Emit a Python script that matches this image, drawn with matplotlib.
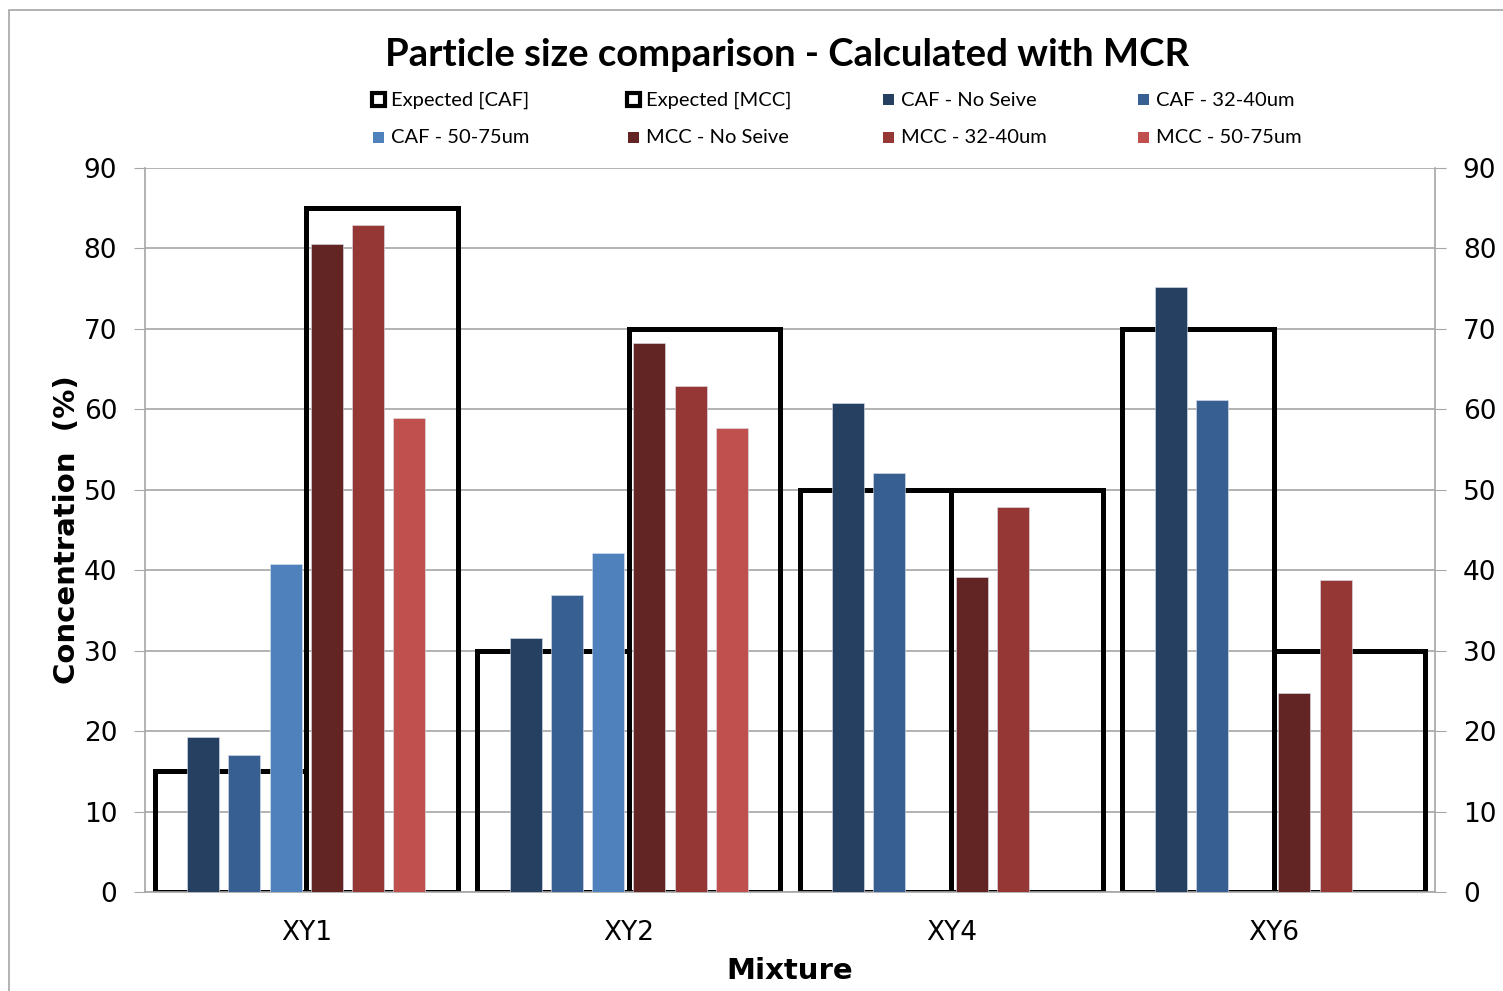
import matplotlib
matplotlib.use("Agg")
import matplotlib.pyplot as plt
import numpy as np
from matplotlib.patches import Rectangle

# Données (concentration en %)
melanges = ["XY1", "XY2", "XY4", "XY6"]

attendu_caf = [15, 30, 50, 70]
attendu_mcc = [85, 70, 50, 30]

caf_sans_tamis = [19.3, 31.6, 60.8, 75.2]
caf_32_40 = [17.0, 36.9, 52.1, 61.2]
caf_50_75 = [40.8, 42.1, 0, 0]
mcc_sans_tamis = [80.6, 68.2, 39.2, 24.7]
mcc_32_40 = [82.9, 62.9, 47.9, 38.8]
mcc_50_75 = [58.9, 57.7, 0, 0]

noms_series = [
    "CAF - No Seive", "CAF - 32-40um", "CAF - 50-75um",
    "MCC - No Seive", "MCC - 32-40um", "MCC - 50-75um",
]
couleurs = ["#264061", "#375F91", "#4F81BD", "#632523", "#953735", "#C0504D"]

GRIS = "#A6A6A6"
TEXTE = "Lato"

figure = plt.figure(figsize=(15.03, 9.91), dpi=100)
axe = figure.add_axes([145 / 1503, 1 - 892 / 991, 1290 / 1503, 724 / 991])

positions = np.arange(len(melanges))

# Barres "attendues" : grands cadres noirs sans remplissage, derrière les autres
largeur_cadre = 0.47
axe.bar(positions - largeur_cadre / 2, attendu_caf, largeur_cadre,
        facecolor="none", edgecolor="black", linewidth=3.6, zorder=2)
axe.bar(positions + largeur_cadre / 2, attendu_mcc, largeur_cadre,
        facecolor="none", edgecolor="black", linewidth=3.6, zorder=2)

# Barres mesurées
pas = 0.1278
largeur_barre = 0.099
valeurs = [caf_sans_tamis, caf_32_40, caf_50_75, mcc_sans_tamis, mcc_32_40, mcc_50_75]
for i, (serie, couleur) in enumerate(zip(valeurs, couleurs)):
    decalage = (i - 2.5) * pas
    axe.bar(positions + decalage, serie, largeur_barre, color=couleur,
            edgecolor="#dde3ee", linewidth=0.4, zorder=3)

axe.set_xlim(-0.5, len(melanges) - 0.5)
axe.set_ylim(0, 90)
axe.set_yticks(range(0, 91, 10))
axe.set_xticks(positions)
axe.set_xticklabels(melanges, fontsize=19)
axe.tick_params(axis="x", length=0, pad=20)
axe.tick_params(axis="y", length=8, color=GRIS, labelsize=19, pad=12)
axe.grid(axis="y", color=GRIS, linewidth=1.2, zorder=0)
axe.set_axisbelow(True)
for cote in ["left", "bottom", "right"]:
    axe.spines[cote].set_color(GRIS)
    axe.spines[cote].set_linewidth(1.2)
axe.spines["top"].set_visible(False)

axe_droit = axe.twinx()
axe_droit.set_ylim(axe.get_ylim())
axe_droit.set_yticks(range(0, 91, 10))
axe_droit.tick_params(axis="y", length=8, color=GRIS, labelsize=19, pad=12)
for cote in axe_droit.spines.values():
    cote.set_visible(False)

axe.set_ylabel("Concentration  (%)", fontsize=21, fontweight="bold", labelpad=2)
axe.set_xlabel("Mixture", fontsize=21, fontweight="bold", labelpad=8)

figure.text(787 / 1503, 1 - 55 / 991, "Particle size comparison - Calculated with MCR",
            ha="center", va="center", fontsize=27.5, fontweight="bold", family=TEXTE)

# Légende sur deux lignes, colonnes régulièrement espacées comme dans Excel
entrees = [("Expected [CAF]", None), ("Expected [MCC]", None)] + list(zip(noms_series, couleurs))
for k, (nom, couleur) in enumerate(entrees):
    ligne, colonne = divmod(k, 4)
    x0 = 373 + colonne * 255
    y0 = 100 + ligne * 38
    if couleur is None:
        carre = Rectangle(((x0 - 1) / 1503, 1 - (y0 + 6) / 991), 13 / 1503, 13 / 991,
                          transform=figure.transFigure, facecolor="white",
                          edgecolor="black", linewidth=3)
    else:
        carre = Rectangle((x0 / 1503, 1 - (y0 + 5) / 991), 11 / 1503, 11 / 991,
                          transform=figure.transFigure, facecolor=couleur, edgecolor="none")
    figure.patches.append(carre)
    figure.text((x0 + 18) / 1503, 1 - y0 / 991, nom, ha="left", va="center",
                fontsize=14.5, family=TEXTE)

# Cadre gris de la zone du graphique
figure.patches.append(Rectangle((9 / 1503, -0.1), 1.2, 1 - 10 / 991 + 0.1,
                                transform=figure.transFigure, facecolor="none",
                                edgecolor=GRIS, linewidth=1.2))

figure.savefig("out.png", dpi=100)
